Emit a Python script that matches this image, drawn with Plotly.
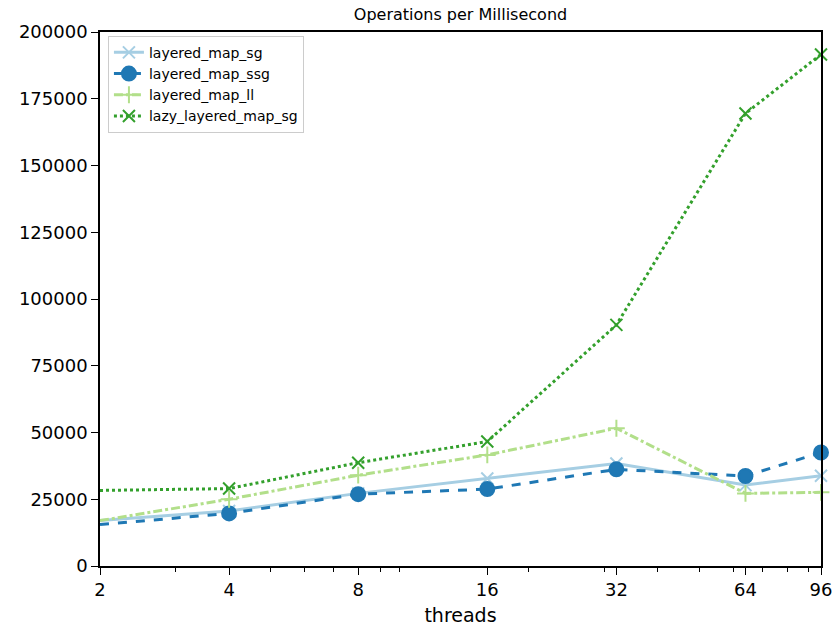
import plotly.graph_objects as go
import math

threads = [2, 4, 8, 16, 32, 64, 96]
layered_map_sg = [17000, 20600, 27200, 32800, 38400, 30300, 33800]
layered_map_ssg = [15500, 19700, 26900, 28800, 36200, 33700, 42500]
layered_map_ll = [17000, 25000, 34000, 41600, 51600, 27200, 27600]
lazy_layered_map_sg = [28300, 29000, 38700, 46600, 90300, 169500, 191600]

x_tick_vals = [2, 4, 8, 16, 32, 64, 96]
x_tick_text = ["2", "4", "8", "16", "32", "64", "96"]
x_minor_vals = [3, 5, 6, 7, 9, 10, 20, 30, 40, 50, 60, 70, 80, 90]
y_tick_vals = [0, 25000, 50000, 75000, 100000, 125000, 150000, 175000, 200000]

FONT = "DejaVu Sans"

series = [
    ("layered_map_sg", layered_map_sg, "#a6cee3", "solid", "x-thin", 12),
    ("layered_map_ssg", layered_map_ssg, "#1f78b4", "dash", "circle", 14),
    ("layered_map_ll", layered_map_ll, "#b2df8a", "dashdot", "cross-thin", 12),
    ("lazy_layered_map_sg", lazy_layered_map_sg, "#33a02c", "dot", "x-thin", 12),
]

fig = go.Figure()
for name, vals, color, dash, sym, size in series:
    fig.add_trace(go.Scatter(
        x=threads, y=vals, name=name, mode="lines+markers",
        line=dict(color=color, width=3, dash=dash),
        marker=dict(symbol=sym, size=size, color=color,
                    line=dict(color=color, width=2)),
        cliponaxis=False,
    ))

W, H = 832, 628
fig.update_layout(
    width=W, height=H,
    margin=dict(l=100, r=11, t=32, b=62, autoexpand=False),
    paper_bgcolor="white", plot_bgcolor="white",
    font=dict(family=FONT, size=18, color="black"),
    title=dict(text="Operations per Millisecond", font=dict(size=16),
               xref="paper", x=0.5, xanchor="center",
               yref="container", y=1 - 14 / H, yanchor="middle"),
    showlegend=True,
    legend=dict(x=0.011, y=0.993, xanchor="left", yanchor="top",
                bgcolor="rgba(255,255,255,0.8)", bordercolor="#cccccc",
                borderwidth=1, font=dict(size=14), tracegroupgap=0),
    xaxis=dict(
        type="log", range=[math.log10(2), math.log10(96)],
        tickvals=x_tick_vals, ticktext=x_tick_text,
        ticklabeloverflow="allow",
        ticks="outside", ticklen=7, tickwidth=1, tickcolor="black",
        showline=True, linecolor="black", linewidth=1.5, mirror=True,
        showgrid=False, zeroline=False, automargin=False,
        title=dict(text="threads", standoff=9, font=dict(size=19)),
        minor=dict(tickvals=x_minor_vals, ticks="outside", ticklen=4,
                   tickcolor="black", tickwidth=1, showgrid=False),
    ),
    yaxis=dict(
        range=[0, 200000], tickvals=y_tick_vals,
        tickformat="d", automargin=False, ticklabeloverflow="allow",
        ticks="outside", ticklen=7, tickwidth=1, tickcolor="black",
        showline=True, linecolor="black", linewidth=1.5, mirror=True,
        showgrid=False, zeroline=False,
    ),
)

fig.write_html(
    "out.html",
    config={"displayModeBar": False},
    post_script="document.body.style.margin='0';document.body.style.overflow='hidden';",
)
